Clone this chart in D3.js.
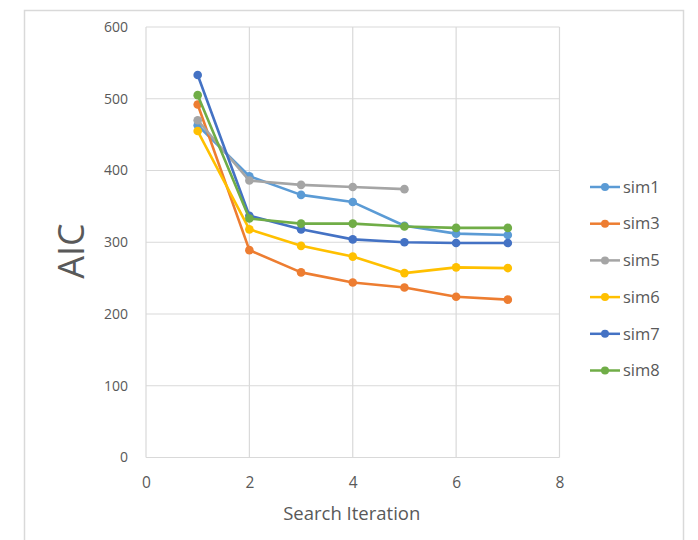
<!DOCTYPE html>
<html>
<head>
<meta charset="utf-8">
<script src="https://cdn.jsdelivr.net/npm/d3@7"></script>
<style>
html,body{margin:0;padding:0;background:#fff;}
svg{display:block;}
text{font-family:"Open Sans","Noto Sans",sans-serif;}
</style>
</head>
<body>
<svg id="chart" width="698" height="540"></svg>
<script>
const iterations = [1, 2, 3, 4, 5, 6, 7];
const seriesNames = ["sim1", "sim3", "sim5", "sim6", "sim7", "sim8"];
const sim1 = [463, 392, 366, 356, 323, 312, 310];
const sim3 = [492, 289, 258, 244, 237, 224, 220];
const sim5 = [470, 386, 380, 377, 374];
const sim6 = [455, 318, 295, 280, 257, 265, 264];
const sim7 = [533, 337, 318, 304, 300, 299, 299];
const sim8 = [505, 333, 326, 326, 322, 320, 320];
const xTicks = [0, 2, 4, 6, 8];
const yTicks = [0, 100, 200, 300, 400, 500, 600];
const colors = ["#5B9BD5", "#ED7D31", "#A5A5A5", "#FFC000", "#4472C4", "#70AD47"];
const xTitle = "Search Iteration";
const yTitle = "AIC";

const seriesValues = [sim1, sim3, sim5, sim6, sim7, sim8];
const series = seriesNames.map((n, i) => ({
  name: n, color: colors[i],
  points: seriesValues[i].map((v, j) => ({x: iterations[j], y: v}))
}));

const svg = d3.select("#chart");
const L = 146, R = 559.5, T = 27, B = 457.5;
const x = d3.scaleLinear().domain([0, 8]).range([L, R]);
const y = d3.scaleLinear().domain([0, 600]).range([B, T]);

// outer chart border
svg.append("rect").attr("x", 24.5).attr("y", 10.5).attr("width", 659).attr("height", 560)
  .attr("fill", "none").attr("stroke", "#d9d9d9").attr("stroke-width", 1.5);

// gridlines
const grid = svg.append("g");
grid.selectAll("line.h").data(yTicks).join("line")
  .attr("x1", L).attr("x2", R).attr("y1", d => y(d)).attr("y2", d => y(d))
  .attr("stroke", "#d9d9d9").attr("stroke-width", 1.2);
grid.selectAll("line.v").data(xTicks).join("line")
  .attr("y1", T).attr("y2", B).attr("x1", d => x(d)).attr("x2", d => x(d))
  .attr("stroke", "#d9d9d9").attr("stroke-width", 1.2);

// axes (labels only)
const yAxis = d3.axisLeft(y).tickValues(yTicks).tickSize(0).tickPadding(18);
const gy = svg.append("g").attr("transform", `translate(${L},0)`).call(yAxis);
gy.select(".domain").remove();
gy.selectAll("text").attr("font-size", 14).attr("fill", "#595959")
  .style("font-family", '"Open Sans", sans-serif');

const xAxis = d3.axisBottom(x).tickValues(xTicks).tickSize(0).tickPadding(19);
const gx = svg.append("g").attr("transform", `translate(0,${B})`).call(xAxis);
gx.select(".domain").remove();
gx.selectAll("text").attr("font-size", 15.5).attr("fill", "#595959")
  .style("font-family", '"Open Sans", sans-serif');

// titles
svg.append("text").attr("x", (L + R) / 2 - 1).attr("y", 520).attr("text-anchor", "middle")
  .attr("font-size", 18.5).attr("fill", "#595959").text(xTitle);
svg.append("text").attr("transform", "translate(84,251) rotate(-90)").attr("text-anchor", "middle")
  .attr("font-size", 36).attr("fill", "#595959").text(yTitle);

// lines & markers
const line = d3.line().x(d => x(d.x)).y(d => y(d.y));
const sg = svg.append("g").selectAll("g").data(series).join("g");
sg.append("path").attr("d", d => line(d.points)).attr("fill", "none")
  .attr("stroke", d => d.color).attr("stroke-width", 2.6).attr("stroke-linejoin", "round");
sg.selectAll("circle").data(d => d.points.map(p => ({...p, color: d.color}))).join("circle")
  .attr("cx", d => x(d.x)).attr("cy", d => y(d.y)).attr("r", 4.3)
  .attr("fill", d => d.color);

// legend
const lg = svg.append("g").selectAll("g").data(series).join("g")
  .attr("transform", (d, i) => `translate(590,${187 + i * 36.7})`);
lg.append("line").attr("x1", 0).attr("x2", 30).attr("stroke", d => d.color).attr("stroke-width", 2.5);
lg.append("circle").attr("cx", 15).attr("r", 4).attr("fill", d => d.color);
lg.append("text").attr("x", 33).attr("dy", "0.35em").attr("font-size", 16.5)
  .attr("fill", "#595959").text(d => d.name);
</script>
</body>
</html>
